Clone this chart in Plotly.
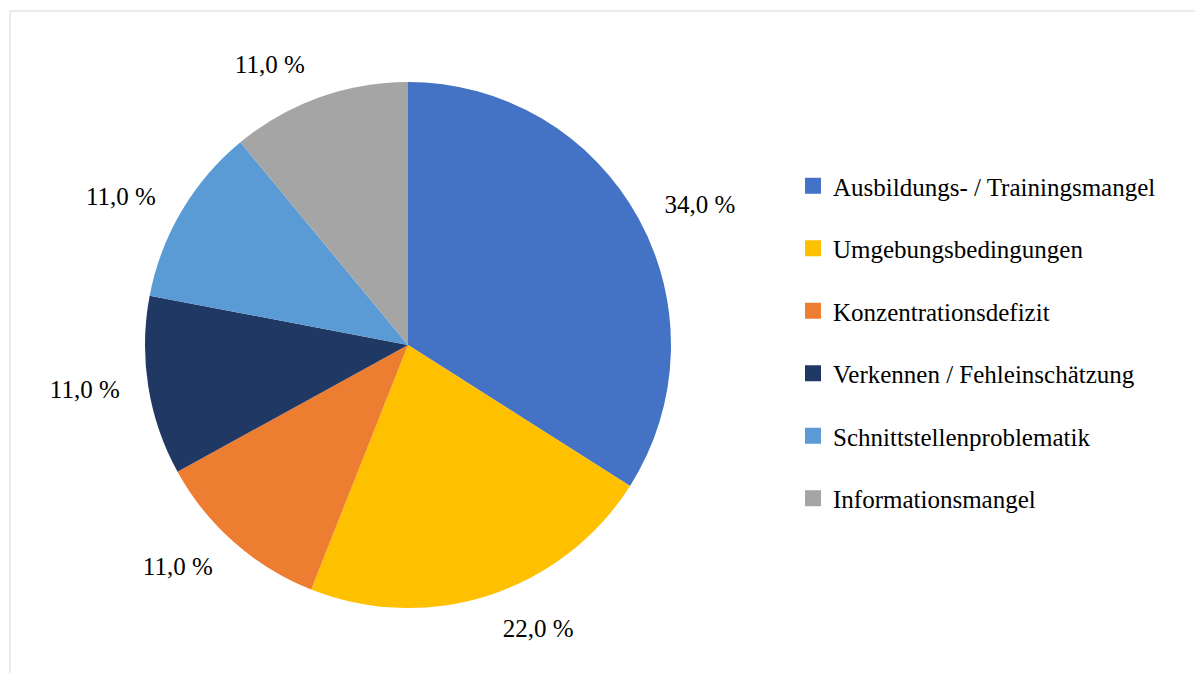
import plotly.graph_objects as go

categories = [
    "Ausbildungs- / Trainingsmangel",
    "Umgebungsbedingungen",
    "Konzentrationsdefizit",
    "Verkennen / Fehleinschätzung",
    "Schnittstellenproblematik",
    "Informationsmangel",
]
values = [34.0, 22.0, 11.0, 11.0, 11.0, 11.0]
colors = ["#4472C4", "#FFC000", "#ED7D31", "#203864", "#5B9BD5", "#A5A5A5"]
value_labels = [f"{v:.1f} %".replace(".", ",") for v in values]

W, H = 1203, 673
OFF = 8  # page body margin
FONT = "Liberation Serif"

cx, cy = (408 - OFF) / W, 1 - (345 - OFF) / H
R = 263      # pie radius in px
RL = 285     # radius used to place the outside labels

fig = go.Figure()
# visible pie
fig.add_trace(go.Pie(
    labels=categories, values=values,
    sort=False, direction="clockwise", rotation=0,
    marker=dict(colors=colors, line=dict(width=0)),
    textinfo="none", showlegend=False,
    hoverinfo="label+percent",
    domain=dict(x=[cx - R / W, cx + R / W], y=[cy - R / H, cy + R / H]),
))
# transparent pie carrying the outside value labels
fig.add_trace(go.Pie(
    labels=categories, values=values,
    text=value_labels, texttemplate="%{text}", textposition="outside",
    sort=False, direction="clockwise", rotation=0,
    marker=dict(colors=["rgba(0,0,0,0)"] * len(values), line=dict(width=0)),
    textfont=dict(family=FONT, size=25, color="#000000"),
    showlegend=False, hoverinfo="skip",
    domain=dict(x=[cx - RL / W, cx + RL / W], y=[cy - RL / H, cy + RL / H]),
))

# legend entries
for name, col in zip(categories, colors):
    fig.add_trace(go.Scatter(
        x=[None], y=[None], mode="markers", name=name, legendgroup=name,
        marker=dict(symbol="square", size=16, color=col),
    ))

fig.update_layout(
    width=W, height=H,
    margin=dict(l=0, r=0, t=0, b=0, autoexpand=False),
    paper_bgcolor="white", plot_bgcolor="white",
    font=dict(family=FONT),
    xaxis=dict(visible=False), yaxis=dict(visible=False),
    legend=dict(
        x=(793 - OFF) / W, y=1 - (163 - OFF) / H, xanchor="left", yanchor="top",
        font=dict(family=FONT, size=25, color="#000000"),
        tracegroupgap=27, bgcolor="rgba(0,0,0,0)",
    ),
    shapes=[dict(type="rect", xref="paper", yref="paper",
                 x0=(10 - OFF) / W, x1=1.02, y0=-0.02, y1=1 - (11 - OFF) / H,
                 line=dict(color="#E4E4EA", width=1.5))],
)

fig.write_html("out.html")
